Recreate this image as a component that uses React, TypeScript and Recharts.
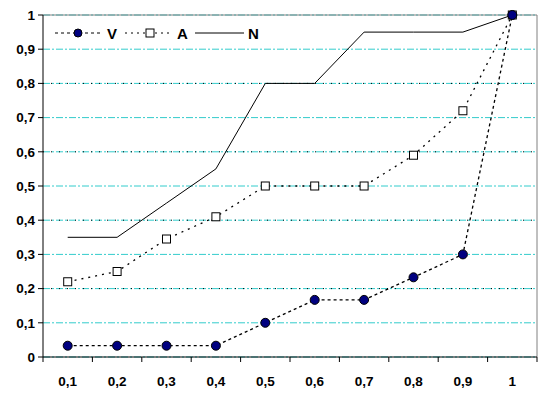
import React from "react";
import { LineChart, Line, XAxis, YAxis, CartesianGrid, ReferenceLine } from "recharts";

const categories = ["0,1", "0,2", "0,3", "0,4", "0,5", "0,6", "0,7", "0,8", "0,9", "1"];
const seriesV = [0.033, 0.033, 0.033, 0.033, 0.1, 0.167, 0.167, 0.233, 0.3, 1];
const seriesA = [0.22, 0.25, 0.345, 0.41, 0.5, 0.5, 0.5, 0.59, 0.72, 1];
const seriesN = [0.35, 0.35, 0.45, 0.55, 0.8, 0.8, 0.95, 0.95, 0.95, 1];
const seriesNames = ["V", "A", "N"];
const yTicks = [0, 0.1, 0.2, 0.3, 0.4, 0.5, 0.6, 0.7, 0.8, 0.9, 1];
const evenGrid = [0.2, 0.4, 0.6, 0.8];

const data = categories.map((c, i) => ({ x: i + 0.5, label: c, V: seriesV[i], A: seriesA[i], N: seriesN[i] }));
const xTicks: number[] = [];
for (let i = 0; i <= 20; i++) xTicks.push(i / 2);

const FONT = "Liberation Sans, Arial, sans-serif";

const fmtY = (v: number) => {
  const r = Math.round(v * 10) / 10;
  return String(r).replace(".", ",");
};

const XTick = (props: any) => {
  const { x, y, payload } = props;
  const v = payload.value;
  if (Number.isInteger(v)) {
    return <line x1={x} x2={x} y1={y} y2={y + 5} stroke="#000" strokeWidth={1} />;
  }
  const idx = Math.floor(v);
  return (
    <text x={x} y={y + 29} textAnchor="middle" fontFamily={FONT} fontSize={13.5} fontWeight="bold" fill="#000">
      {categories[idx]}
    </text>
  );
};

const CircleDot = (props: any) => {
  const { cx, cy, index } = props;
  return <circle key={"c" + index} cx={cx} cy={cy} r={4.5} fill="#000080" stroke="#000" strokeWidth={1} />;
};

const SquareDot = (props: any) => {
  const { cx, cy, index } = props;
  return <rect key={"s" + index} x={cx - 4} y={cy - 4} width={8} height={8} fill="#fff" stroke="#000" strokeWidth={1} />;
};

const LegendBox = () => (
  <svg width={230} height={24} style={{ display: "block", position: "absolute", left: 52, top: 22 }}>
    <line x1={3} x2={48} y1={11} y2={11} stroke="#000" strokeDasharray="3 3" />
    <circle cx={26} cy={11} r={4} fill="#000080" stroke="#000" />
    <text x={55} y={16.5} fontFamily={FONT} fontSize={15} fontWeight="bold">{seriesNames[0]}</text>
    <line x1={73} x2={120} y1={11} y2={11} stroke="#000" strokeDasharray="2 4" />
    <rect x={94} y={7} width={8} height={8} fill="#fff" stroke="#000" />
    <text x={125} y={16.5} fontFamily={FONT} fontSize={15} fontWeight="bold">{seriesNames[1]}</text>
    <line x1={143} x2={192} y1={11} y2={11} stroke="#000" />
    <text x={196} y={16.5} fontFamily={FONT} fontSize={15} fontWeight="bold">{seriesNames[2]}</text>
  </svg>
);

export default function App() {
  return (
    <div style={{ position: "absolute", left: 0, top: 0, width: 548, height: 399, background: "#fff" }}>
      <LineChart width={548} height={399} data={data} margin={{ top: 15, right: 11, bottom: 0, left: 0 }}>
        <CartesianGrid vertical={false} stroke="#33CCCC" strokeDasharray="7 2 2 2" />
        {evenGrid.map((g) => (
          <ReferenceLine key={g} y={g} stroke="#000" strokeDasharray="1 7" />
        ))}
        <ReferenceLine y={1} stroke="#808080" />
        <ReferenceLine x={10} stroke="#808080" />
        <XAxis
          dataKey="x"
          type="number"
          domain={[0, 10]}
          ticks={xTicks}
          interval={0}
          tick={<XTick />}
          tickLine={false}
          tickSize={0}
          tickMargin={0}
          axisLine={{ stroke: "#000" }}
          height={42}
        />
        <YAxis
          type="number"
          domain={[0, 1]}
          ticks={yTicks}
          interval={0}
          tickFormatter={fmtY}
          tick={{ fontFamily: FONT, fontSize: 13.5, fontWeight: "bold", fill: "#000" }}
          tickLine={{ stroke: "#000" }}
          tickSize={5}
          tickMargin={3}
          axisLine={{ stroke: "#000" }}
          width={43}
        />
        <Line dataKey="N" name={seriesNames[2]} stroke="#000" strokeWidth={1} dot={false} isAnimationActive={false} />
        <Line dataKey="A" name={seriesNames[1]} stroke="#000" strokeWidth={1.3} strokeDasharray="2 5" dot={<SquareDot />} isAnimationActive={false} />
        <Line dataKey="V" name={seriesNames[0]} stroke="#000" strokeWidth={1.3} strokeDasharray="3 3" dot={<CircleDot />} isAnimationActive={false} />
      </LineChart>
      <LegendBox />
    </div>
  );
}
